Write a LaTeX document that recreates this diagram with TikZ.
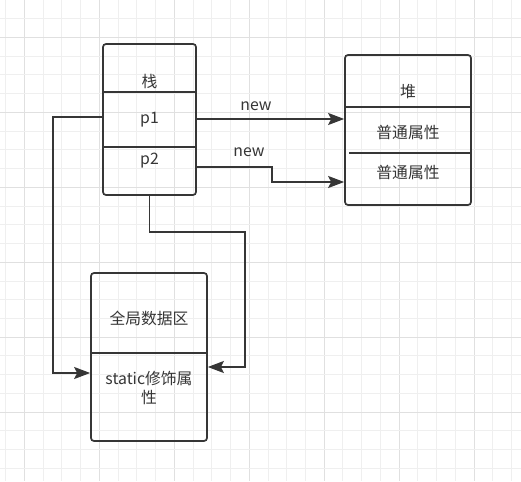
\documentclass[tikz,border=0pt]{standalone}
\usepackage{fontspec}
\newfontfamily\cjk{Noto Sans CJK SC}
\usepackage{tikz}
\usetikzlibrary{arrows.meta,backgrounds,calc}
\definecolor{linegray}{HTML}{363636}
\definecolor{gridminor}{HTML}{EFEFEF}
\definecolor{gridmajor}{HTML}{E0E0E0}
\tikzset{
  memorybox/.style={draw=linegray, line width=1.7pt, rounded corners=3pt, inner sep=0pt},
  divider/.style={draw=linegray, line width=1.4pt},
  lbl/.style={font=\cjk\fontsize{15.8}{18.5}\selectfont, text=linegray, inner sep=0pt, align=center},
  conn/.style={draw=linegray, line width=1.6pt, -{Stealth[length=16pt,width=12pt,inset=3pt]}}
}

\begin{document}
\begin{tikzpicture}[x=1pt,y=-1pt]
\useasboundingbox[fill=white] (0,0) rectangle (521,481);
% grid
\foreach \k in {0,...,27} {
  \pgfmathtruncatemacro\major{mod(\k-1,4)==0}
  \ifnum\major=1 \def\gc{gridmajor}\else\def\gc{gridminor}\fi
  \draw[\gc, line width=1pt] (5.8+18.73*\k,0) -- (5.8+18.73*\k,481);
}
\foreach \k in {0,...,25} {
  \pgfmathtruncatemacro\major{mod(\k-2,4)==0}
  \ifnum\major=1 \def\gc{gridmajor}\else\def\gc{gridminor}\fi
  \draw[\gc, line width=1pt] (0,18.735*\k) -- (521,18.735*\k);
}

% stack
\node[memorybox, minimum width=93pt, minimum height=151pt] (stack) at (149.5,119.5) {};
\draw[divider] (stack.west |- 0,92) -- (stack.east |- 0,92);
\draw[divider] (stack.west |- 0,147) -- (stack.east |- 0,147);
\node[lbl] (stacktitle) at (149.5,81) {栈};
\node[lbl] (p1) at (149.5,120) {p1};
\node[lbl] (p2) at (149.5,161) {p2};

% heap
\node[memorybox, minimum width=126pt, minimum height=150pt] (heap) at (408,130) {};
\draw[divider] (heap.west |- 0,107) -- (heap.east |- 0,107);
\draw[divider] (349,153) -- (heap.east |- 0,153);
\node[lbl] (heaptitle) at (408,92) {堆};
\node[lbl] (attrA) at (408,132) {普通属性};
\node[lbl] (attrB) at (408,172) {普通属性};

% global data
\node[memorybox, minimum width=116pt, minimum height=168pt] (global) at (149,357) {};
\draw[divider] (global.west |- 0,353) -- (global.east |- 0,353);
\node[lbl] (globaltitle) at (149,318) {全局数据区};
\node[lbl] (staticattr) at (149,388) {static修饰属\\性};

% connectors
\draw[conn] (stack.east |- 0,119) -- (heap.west |- 0,119);
\node[lbl] (newA) at (256,106) {new};
\draw[conn] (stack.east |- 0,167) -- (272,167) -- (272,182) -- (heap.west |- 0,182);
\node[lbl] (newB) at (249,152) {new};
\draw[conn] (stack.west |- 0,117) -- (53,117) -- (53,373) -- (global.west |- 0,373);
\draw[conn] (stack.south) -- (149.5,232) -- (245,232) -- (245,367) -- (global.east |- 0,367);
\end{tikzpicture}
\end{document}
